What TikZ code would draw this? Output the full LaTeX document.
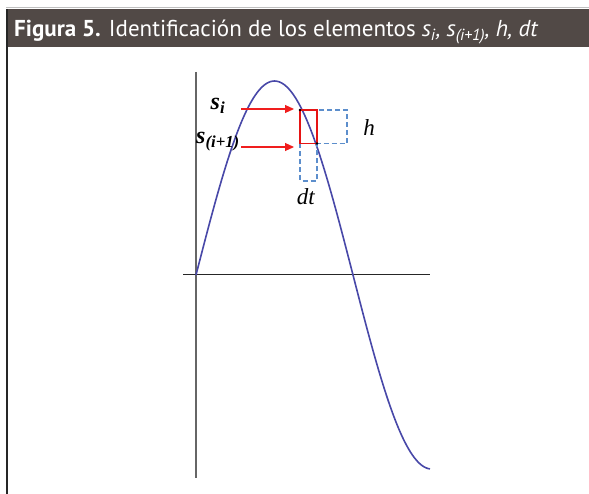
\documentclass[tikz,border=0pt]{standalone}
\usepackage{fontspec}
\setmainfont{Liberation Serif}
\newfontfamily\headfont{PT Sans}
\usetikzlibrary{arrows.meta}
\definecolor{headbg}{RGB}{81,73,70}
\definecolor{curvecol}{RGB}{72,72,168}
\definecolor{dashblue}{RGB}{92,142,204}
\definecolor{boxred}{RGB}{230,20,20}
\definecolor{arrred}{RGB}{240,30,30}
\tikzset{
  axisline/.style={line width=1pt, black!85},
  redarrow/.style={draw=arrred, line width=1.1pt, -{Triangle[length=9pt,width=8pt,fill=arrred]}},
  dashbox/.style={draw=dashblue, line width=1.4pt, dash pattern=on 5pt off 3pt},
  lbl/.style={inner sep=0pt, font=\fontsize{23}{23}\selectfont},
  sublbl/.style={inner sep=0pt, font=\fontsize{24}{24}\selectfont}
}
\begin{document}
\begin{tikzpicture}[x=1pt,y=-1pt]
\useasboundingbox (0,0) rectangle (589,494);
\fill[white] (0,0) rectangle (589,494);
% frame and header
\draw[black!25, line width=1.5pt] (6,7.5) -- (589,7.5);
\fill[headbg] (6,9) rectangle (589,47);
\draw[black!85, line width=2.5pt] (7.2,9) -- (7.2,494);
\node[anchor=base west, inner sep=0pt, text=white, font=\headfont\fontsize{23}{23}\selectfont] (title) at (14,37)
  {\textbf{Figura 5.} Identificación de los elementos \textit{s}\textsubscript{\textit{i}}\textit{,} \textit{s}\textsubscript{\textit{(i+1)}}\textit{,} \textit{h, dt}};
% axes
\coordinate (yt) at (196,72);
\coordinate (yb) at (196,478);
\coordinate (xl) at (183,275);
\coordinate (xr) at (430,275);
\draw[black!60, line width=1.2pt] (yt) -- (yb);
\draw[axisline] (xl) -- (xr);
% curve
\draw[curvecol, line width=1.6pt, smooth, samples=120, domain=196:430]
  plot (\x, {275-194*sin((\x-196)/314*360)});
% boxes
\coordinate (A) at (300,110);
\coordinate (B) at (317,143.5);
\draw[dashbox] (317,110) rectangle (347,143.5);
\draw[dashbox] (300,143.5) rectangle (317,181);
\draw[boxred, line width=1.8pt] (A) rectangle (B);
\fill[black] (A) circle (1.4pt);
\fill[black] (B) circle (1.4pt);
% labels and arrows
\node[sublbl] (si) at (218,106) {\textbf{\textit{s}}\textsubscript{\textbf{\textit{i}}}};
\node[sublbl] (si1) at (218,142) {\textbf{\textit{s}}\textsubscript{\textbf{\textit{(i+1)}}}};
\coordinate (a1s) at (241,109);
\coordinate (a1e) at (294,109);
\coordinate (a2s) at (241,147);
\coordinate (a2e) at (294,147);
\draw[redarrow] (a1s) -- (a1e);
\draw[redarrow] (a2s) -- (a2e);
\node[lbl] (h) at (369,128) {\textit{h}};
\node[lbl] (dt) at (306,197) {\textit{dt}};
\end{tikzpicture}
\end{document}
